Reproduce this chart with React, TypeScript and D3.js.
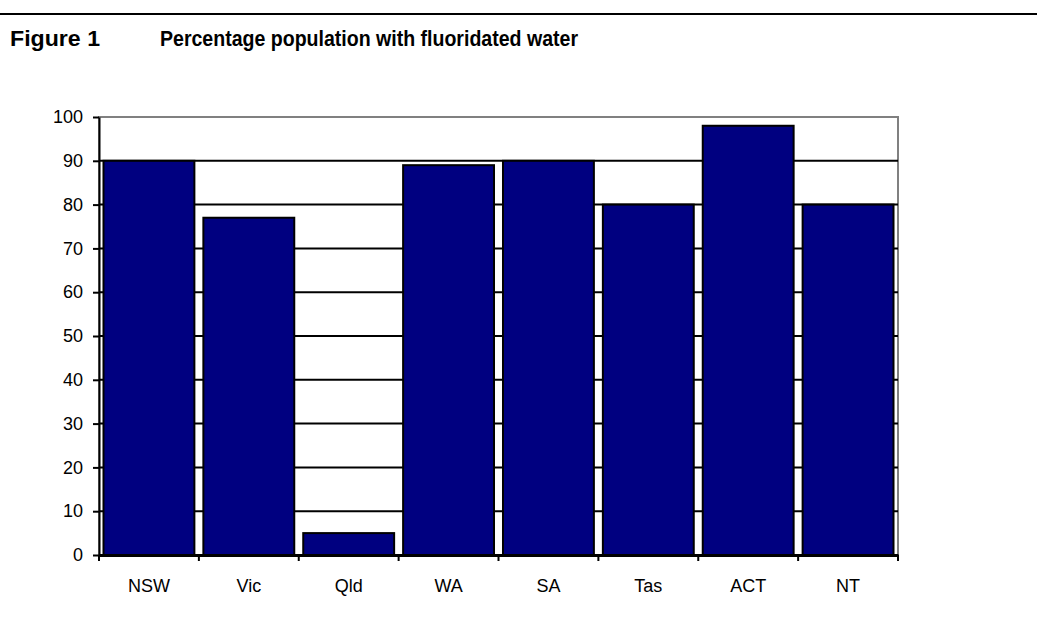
import React, { useEffect, useRef } from 'react';
import * as d3 from 'd3';

const states = ['NSW', 'Vic', 'Qld', 'WA', 'SA', 'Tas', 'ACT', 'NT'];
const fluoridated = [90, 77, 5, 89, 90, 80, 98, 80];
const yTicks = [0, 10, 20, 30, 40, 50, 60, 70, 80, 90, 100];

const FONT = "'Liberation Sans', Arial, sans-serif";

const App: React.FC = () => {
  const svgRef = useRef<SVGSVGElement>(null);

  useEffect(() => {
    if (!svgRef.current) return;
    const svg = d3.select(svgRef.current);
    svg.selectAll('*').remove();

    const width = 1037;
    const plot = { left: 99, right: 898, top: 117, bottom: 555 };

    // header rule + title
    svg.append('line')
      .attr('x1', 0).attr('x2', width)
      .attr('y1', 14).attr('y2', 14)
      .attr('stroke', '#000').attr('stroke-width', 2);

    // condensed bold look: squeeze Arial bold into the original widths
    const title = svg.append('g')
      .attr('font-family', FONT)
      .attr('font-size', 22)
      .attr('font-weight', 700)
      .attr('fill', '#000');
    title.append('text').attr('x', 10).attr('y', 46)
      .attr('textLength', 90).attr('lengthAdjust', 'spacingAndGlyphs')
      .text('Figure 1');
    title.append('text').attr('x', 160).attr('y', 46)
      .attr('textLength', 418).attr('lengthAdjust', 'spacingAndGlyphs')
      .text('Percentage population with fluoridated water');

    const x = d3.scaleBand<string>()
      .domain(states)
      .range([plot.left, plot.right])
      .paddingInner(0.09)
      .paddingOuter(0.045);

    const xTick = d3.scaleBand<string>()
      .domain(states)
      .range([plot.left, plot.right]);

    const y = d3.scaleLinear().domain([0, 100]).range([plot.bottom, plot.top]);

    const g = svg.append('g');

    // plot border (grey)
    g.append('rect')
      .attr('x', plot.left).attr('y', plot.top)
      .attr('width', plot.right - plot.left)
      .attr('height', plot.bottom - plot.top)
      .attr('fill', '#fff')
      .attr('stroke', '#808080')
      .attr('stroke-width', 2);

    // gridlines
    g.selectAll('line.grid')
      .data(yTicks.filter(t => t > 0 && t < 100))
      .enter().append('line')
      .attr('class', 'grid')
      .attr('x1', plot.left).attr('x2', plot.right)
      .attr('y1', d => y(d)).attr('y2', d => y(d))
      .attr('stroke', '#000').attr('stroke-width', 2);

    // bars
    g.selectAll('rect.bar')
      .data(states)
      .enter().append('rect')
      .attr('class', 'bar')
      .attr('x', d => x(d) as number)
      .attr('y', (d, i) => y(fluoridated[i]))
      .attr('width', x.bandwidth())
      .attr('height', (d, i) => plot.bottom - y(fluoridated[i]))
      .attr('fill', '#000080')
      .attr('stroke', '#000')
      .attr('stroke-width', 2);

    // y axis
    const yAxis = g.append('g')
      .attr('transform', `translate(${plot.left},0)`)
      .call(d3.axisLeft(y).tickValues(yTicks).tickSize(6).tickPadding(10).tickSizeOuter(0));
    yAxis.attr('font-family', FONT).attr('font-size', 18);
    yAxis.select('.domain').attr('stroke', '#000').attr('stroke-width', 2);
    yAxis.selectAll('.tick line').attr('stroke', '#000').attr('stroke-width', 2);
    yAxis.selectAll('.tick text').attr('fill', '#000');

    // x axis
    const xAxis = g.append('g')
      .attr('transform', `translate(0,${plot.bottom})`)
      .call(d3.axisBottom(xTick).tickSize(0).tickPadding(24).tickSizeOuter(0));
    xAxis.attr('font-family', FONT).attr('font-size', 18);
    xAxis.select('.domain').attr('stroke', '#000').attr('stroke-width', 3);
    xAxis.selectAll('.tick text').attr('fill', '#000');

    // category boundary ticks
    g.selectAll('line.xtick')
      .data([...states.map(s => xTick(s) as number), plot.right])
      .enter().append('line')
      .attr('class', 'xtick')
      .attr('x1', d => d).attr('x2', d => d)
      .attr('y1', plot.bottom).attr('y2', plot.bottom + 6)
      .attr('stroke', '#000').attr('stroke-width', 2);
  }, []);

  return (
    <svg ref={svgRef} width={1037} height={630}
      style={{ position: 'absolute', left: 0, top: 0, background: '#fff' }} />
  );
};

export default App;
